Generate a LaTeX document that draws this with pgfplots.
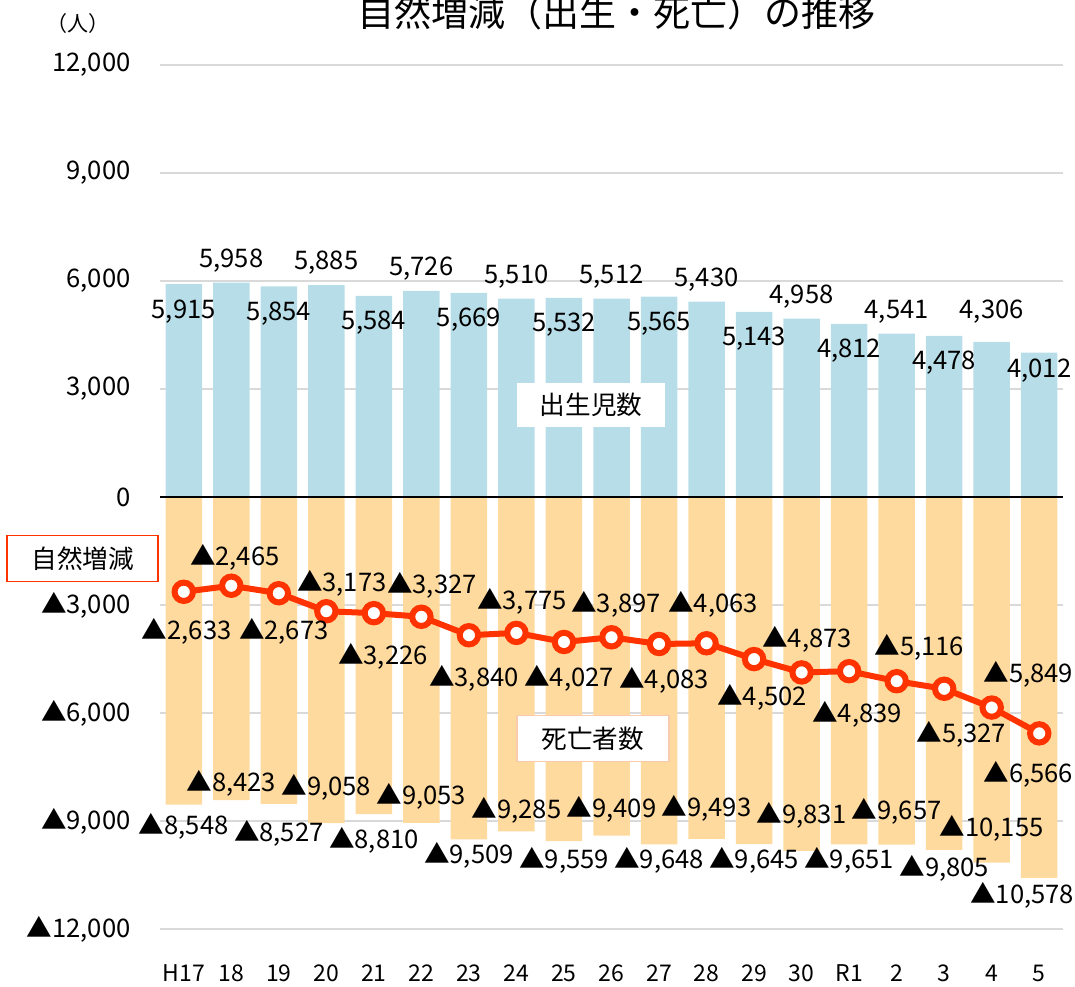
\documentclass[border=0pt]{standalone}
\usepackage{fontspec}
\setmainfont{Noto Sans CJK JP}
\usepackage{pgfplots}
\usepackage{pgfplotstable}
\pgfplotsset{compat=1.18}

\definecolor{birthc}{RGB}{183,222,232}
\definecolor{deathc}{RGB}{255,218,158}
\definecolor{netc}{RGB}{255,51,0}
\definecolor{gridc}{RGB}{217,217,217}
\definecolor{boxc}{RGB}{248,203,173}
\pgfkeys{/pgf/number format/.cd, assume math mode=true, fixed, precision=0, 1000 sep={,}}
\newcommand\lab{\fontsize{12.8pt}{15pt}\selectfont}

% x: 0=H17 ... 18=R5
\pgfplotstableread{
x birth death net
0  5915  8548 2633
1  5958  8423 2465
2  5854  8527 2673
3  5885  9058 3173
4  5584  8810 3226
5  5726  9053 3327
6  5669  9509 3840
7  5510  9285 3775
8  5532  9559 4027
9  5512  9409 3897
10 5565  9648 4083
11 5430  9493 4063
12 5143  9645 4502
13 4958  9831 4873
14 4812  9651 4839
15 4541  9657 5116
16 4478  9805 5327
17 4306 10155 5849
18 4012 10578 6566
}\data

% label positions (births, last two placed by hand)
\pgfplotstableread{
x y v
17 4958 4306
18 3319 4012
}\birthlab

% label positions (death)
\pgfplotstableread{
x y v
0  -9375  8548
1  -8194  8423
2  -9556  8527
3  -8278  9058
4  -9750  8810
5  -8528  9053
6  -10167 9509
7  -8944  9285
8  -10333 9559
9  -8889  9409
10 -10333 9648
11 -8861  9493
12 -10306 9645
13 -9056  9831
14 -10306 9651
15 -8972  9657
16 -10528 9805
17 -9417  10155
17.64 -11278 10578
}\deathlab

% label positions (natural change)
\pgfplotstableread{
x y v
0.063  -3972 2633
1.074  -1889 2465
2.105  -3972 2673
3.326  -2611 3173
4.189  -4639 3226
5.221  -2667 3327
6.105  -5250 3840
7.116  -3111 3775
8.105  -5250 4027
9.095  -3222 3897
10.105 -5333 4083
11.137 -3222 4063
12.168 -5778 4502
13.116 -4167 4873
14.168 -6250 4839
15.474 -4389 5116
16.358 -6833 5327
17.768 -5139 5849
17.768 -7917 6566
}\netlab

\begin{document}
\begin{tikzpicture}
\begin{axis}[
  scale only axis, width=451.5pt, height=432pt,
  xmin=-0.5, xmax=18.5, ymin=-12000, ymax=12000,
  clip=false,
  scaled y ticks=false,
  axis line style={draw=none},
  major tick length=0pt,
  xtick={0,...,18},
  xticklabels={H17,18,19,20,21,22,23,24,25,26,27,28,29,30,R1,2,3,4,5},
  ytick={-12000,-9000,-6000,-3000,0,3000,6000,9000,12000},
  yticklabels={{▲12,000},{▲9,000},{▲6,000},{▲3,000},0,{3,000},{6,000},{9,000},{12,000}},
  ymajorgrids, grid style={gridc, line width=0.75pt},
  xticklabel style={anchor=base, inner sep=0pt, yshift=-26.25pt, font=\fontsize{11.5pt}{13pt}\selectfont},
  yticklabel style={anchor=east, inner sep=0pt, xshift=-14.5pt, font=\lab},
  every node near coord/.append style={font=\lab, inner sep=0pt, text=black},
]
\addplot[ybar, bar width=18.25pt, bar shift=0pt, fill=birthc, draw=none] table[x=x, y=birth]{\data};
\addplot[ybar, bar width=18.25pt, bar shift=0pt, fill=deathc, draw=none] table[x=x, y expr=-\thisrow{death}]{\data};

\draw[black, line width=1pt] (rel axis cs:0,0.5) -- (rel axis cs:1,0.5);

\addplot[netc, line width=3pt, mark=*, mark size=4.6pt, mark options={fill=white, draw=netc, line width=3pt}]
  table[x=x, y expr=-\thisrow{net}]{\data};

% birth labels: even inside, odd above
\addplot[draw=none, nodes near coords, point meta=\thisrow{birth},
  x filter/.expression={(mod(x,2)==0 && x<17) ? x : nan},
  every node near coord/.append style={anchor=base, yshift=-17pt}]
  table[x=x, y=birth]{\data};
\addplot[draw=none, nodes near coords, point meta=\thisrow{birth},
  x filter/.expression={(mod(x,2)==1 && x<17) ? x : nan},
  every node near coord/.append style={anchor=base, yshift=7.75pt}]
  table[x=x, y=birth]{\data};
\addplot[draw=none, nodes near coords, point meta=\thisrow{v},
  every node near coord/.append style={anchor=base}]
  table[x=x, y=y]{\birthlab};

\addplot[draw=none, nodes near coords={▲\pgfmathprintnumber{\pgfplotspointmeta}}, point meta=\thisrow{v},
  every node near coord/.append style={anchor=base}]
  table[x=x, y=y]{\deathlab};
\addplot[draw=none, nodes near coords={▲\pgfmathprintnumber{\pgfplotspointmeta}}, point meta=\thisrow{v},
  every node near coord/.append style={anchor=base}]
  table[x=x, y=y]{\netlab};

\node[fill=white, inner sep=0pt, minimum width=74pt, minimum height=22pt, font=\lab] at (axis cs:8.57,2556) {出生児数};
\node[fill=white, draw=boxc, line width=0.75pt, inner sep=0pt, minimum width=76pt, minimum height=23pt, font=\lab] at (axis cs:8.61,-6708) {死亡者数};
\node[fill=white, draw=netc, line width=0.75pt, inner sep=0pt, minimum width=75.5pt, minimum height=23pt, font=\lab] at (axis cs:-2.126,-1708) {自然増減};

\node[anchor=base, font=\fontsize{18.5pt}{21pt}\selectfont] at ([yshift=19pt]rel axis cs:0.506,1) {自然増減（出生・死亡）の推移};
\node[font=\fontsize{10.5pt}{12pt}\selectfont] at ([xshift=-41pt, yshift=20.5pt]rel axis cs:0,1) {（人）};

\coordinate (ll) at (rel axis cs:0,0);
\end{axis}
\pgfresetboundingbox
\path[use as bounding box] ([xshift=-80pt, yshift=-28.5pt]ll) rectangle ([xshift=457.5pt, yshift=464.5pt]ll);
\end{tikzpicture}
\end{document}
